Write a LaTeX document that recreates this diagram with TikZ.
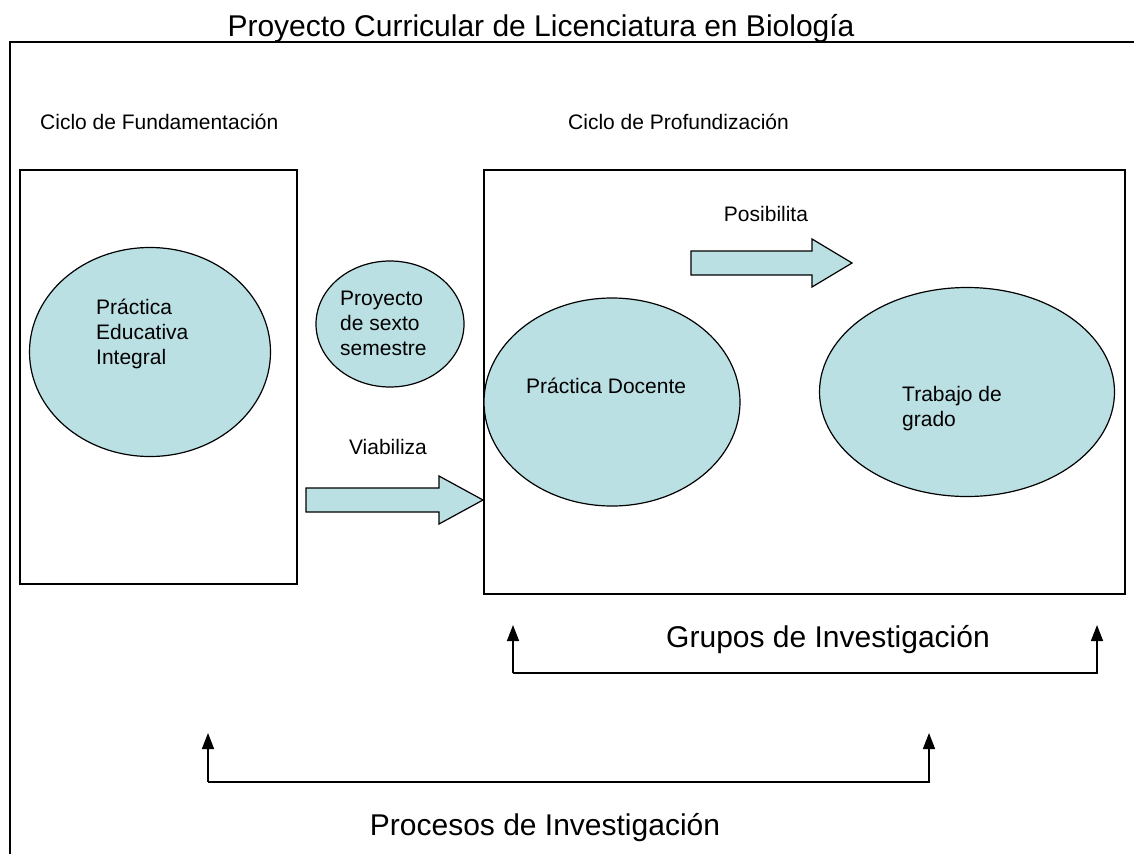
\documentclass[tikz,border=0pt]{standalone}
\usepackage{fontspec}
\setmainfont{Liberation Sans}
\usetikzlibrary{arrows.meta,shapes.geometric}
\definecolor{celeste}{RGB}{187,224,227}

\tikzset{
  bulle/.style={ellipse, draw=black, fill=celeste, line width=1.2pt, inner sep=0pt},
  fleche/.style={fill=celeste, draw=black, line width=1.2pt, line join=miter},
  petit/.style={font=\fontsize{21}{25}\selectfont, align=left, inner sep=0pt},
  grand/.style={font=\fontsize{30}{34}\selectfont, inner sep=0pt},
  renvoi/.style={line width=1.5pt, -{Triangle[length=16pt,width=12pt]}}
}

\begin{document}
\begin{tikzpicture}[x=1pt,y=-1pt]

\useasboundingbox (0,0) rectangle (1134,854);

% Cadre et titre
\draw[line width=2pt] (1134,42) -- (10,42) -- (10,854);
\node[grand, anchor=base] (titre) at (541,36) {Proyecto Curricular de Licenciatura en Biología};

\node[petit, anchor=base west] (cfund) at (40,129) {Ciclo de Fundamentación};
\node[petit, anchor=base west] (cprof) at (568,129) {Ciclo de Profundización};

% Cycle de fondement
\draw[line width=1.2pt] (20,170) rectangle (297,584);
\node[bulle, minimum width=241pt, minimum height=209pt] (pei) at (150,352) {};
\node[petit, anchor=west] (tpei) at (96,334) {Práctica\\Educativa\\Integral};

\node[bulle, minimum width=148pt, minimum height=126pt] (pss) at (390,324) {};
\node[petit, anchor=west] (tpss) at (340,323) {Proyecto\\de sexto\\semestre};

% Viabiliza
\node[petit] (viab) at (388,447) {Viabiliza};
\filldraw[fleche] (306,488) -- (439,488) -- (439,476) -- (483,500) -- (439,524) -- (439,512) -- (306,512) -- cycle;

% Cycle d'approfondissement
\draw[line width=1.2pt] (484,170) rectangle (1125,594);

\node[petit] (posib) at (766,214) {Posibilita};
\filldraw[fleche] (691,251) -- (812,251) -- (812,239) -- (852,263) -- (812,287) -- (812,275) -- (691,275) -- cycle;

\node[bulle, minimum width=256pt, minimum height=208pt] (pdoc) at (612,402) {};
\node[petit, anchor=west] (tpdoc) at (526,386) {Práctica Docente};

\node[bulle, minimum width=295pt, minimum height=209pt] (tgrad) at (967,392) {};
\node[petit, anchor=west] (ttgrad) at (902,409) {Trabajo de\\grado};

% Grupos de Investigacion
\node[grand] (grupos) at (828,640) {Grupos de Investigación};
\coordinate (g1) at (513,625);
\coordinate (g2) at (1097,625);
\coordinate (gb1) at (513,673);
\coordinate (gb2) at (1097,673);
\draw[renvoi] (gb1) -- (g1);
\draw[renvoi] (gb1) -- (gb2) -- (g2);

% Procesos de Investigacion
\node[grand] (procesos) at (545,828) {Procesos de Investigación};
\coordinate (p1) at (208,733);
\coordinate (p2) at (929,733);
\coordinate (pb1) at (208,782);
\coordinate (pb2) at (929,782);
\draw[renvoi] (pb1) -- (p1);
\draw[renvoi] (pb1) -- (pb2) -- (p2);

\end{tikzpicture}
\end{document}
